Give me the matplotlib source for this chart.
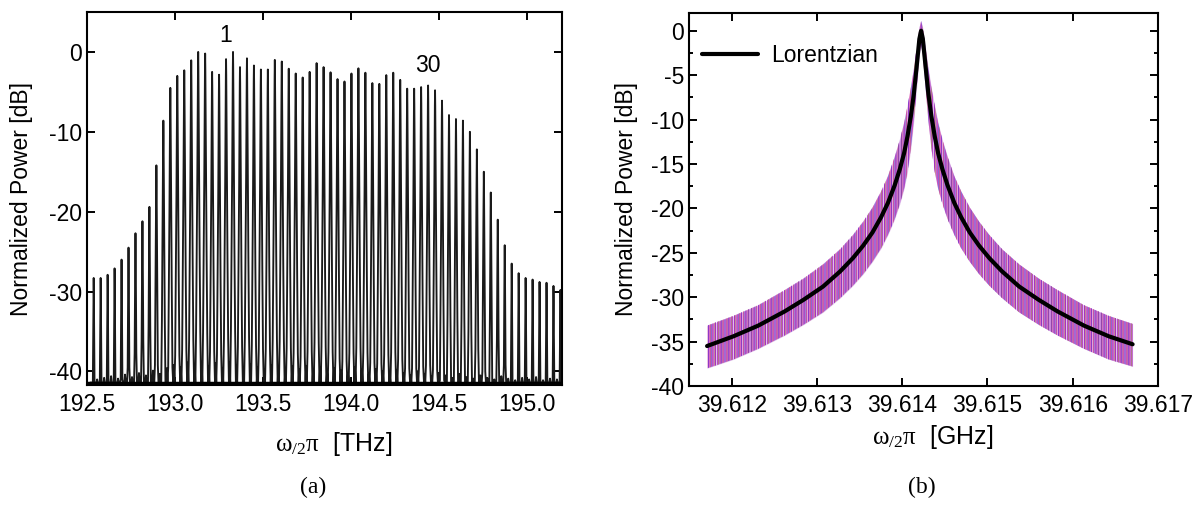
import numpy as np
import matplotlib.pyplot as plt

plt.rcParams['font.family'] = ['Liberation Sans', 'DejaVu Sans']
plt.rcParams['mathtext.fontset'] = 'custom'
plt.rcParams['mathtext.rm'] = 'Liberation Serif'
plt.rcParams['mathtext.it'] = 'Liberation Serif'
plt.rcParams['axes.unicode_minus'] = False
plt.rcParams['hatch.linewidth'] = 0.45

# ---- (a) comb spectrum: peak heights [dB], one per comb line ----
comb_start = 192.538   # THz, first line
comb_fsr = 0.0396      # THz, line spacing
peak_db = [-28.3, -28.3, -27.9, -27.1, -26.0, -24.5, -22.7, -21.2, -19.4, -14.2,
           -8.6, -4.5, -3.0, -2.3, -1.05, 0.0, -0.2, -2.5, -2.85, -0.9,
           0.0, -1.9, -0.8, -1.7, -2.2, -2.2, -1.0, -1.2, -2.1, -2.7,
           -3.2, -2.5, -1.4, -1.9, -2.55, -3.4, -3.7, -2.7, -2.05, -2.6,
           -3.9, -4.0, -2.9, -2.6, -3.5, -4.6, -4.6, -4.4, -4.2, -4.8,
           -6.1, -7.9, -8.4, -8.6, -10.0, -12.2, -15.0, -17.6, -21.0, -24.2,
           -26.5, -27.7, -28.3, -28.5, -28.8, -28.9, -29.3, -29.8]
# small spurs between the lines, near the noise floor
spur_db = [-41.0, -40.8, -40.6, -40.9, -40.4, -40.7, -40.2, -40.5, -39.9, -40.3,
           -39.6, -39.2, -39.5, -38.9, -39.3, -38.8, -39.4, -39.0, -39.6, -38.9,
           -39.3, -39.7, -39.1, -39.5, -39.8, -39.2, -39.6, -40.0, -39.4, -39.7,
           -39.3, -39.8, -39.5, -40.1, -39.6, -39.9, -40.2, -39.5, -39.8, -40.3,
           -39.7, -40.0, -40.4, -39.8, -40.2, -40.5, -40.0, -40.3, -40.6, -40.2,
           -40.5, -40.8, -40.3, -40.7, -40.9, -40.5, -40.8, -41.0, -40.6, -40.9,
           -41.1, -40.8, -41.0, -40.7, -41.1, -40.9, -41.0]
label_lines = {"1": (19, 1.5), "30": (48, 1.1)}

# ---- (b) beat note: Lorentzian fit ----
beat_center = 39.614222  # GHz
lor_df_mhz = [-2.51, -2.2, -1.91, -1.6, -1.38, -1.15, -0.95, -0.8, -0.68, -0.57,
              -0.47, -0.39, -0.31, -0.25, -0.20, -0.16, -0.12, -0.085, -0.05, -0.02,
              0.0, 0.02, 0.05, 0.085, 0.12, 0.16, 0.20, 0.25, 0.31, 0.39,
              0.47, 0.57, 0.68, 0.8, 0.95, 1.15, 1.38, 1.6, 1.91, 2.2, 2.48]
lor_db = [-35.5, -34.4, -33.2, -31.6, -30.3, -28.8, -27.1, -25.6, -24.2, -22.7,
          -21.0, -19.4, -17.4, -15.6, -13.8, -11.9, -9.6, -7.1, -3.8, -0.9,
          0.0, -0.9, -3.8, -7.1, -9.6, -11.9, -13.8, -15.6, -17.4, -19.4,
          -21.0, -22.7, -24.2, -25.6, -27.1, -28.8, -30.3, -31.6, -33.2, -34.4, -35.3]
# spread of the measured traces above / below the fit [dB]
noise_up = [2.3, 2.3, 2.3, 2.4, 2.4, 2.5, 2.5, 2.6, 2.7, 2.8,
            2.9, 3.0, 3.2, 3.3, 3.4, 3.4, 3.2, 2.8, 2.0, 1.2,
            1.1, 1.2, 2.0, 2.8, 3.2, 3.4, 3.4, 3.3, 3.2, 3.0,
            2.9, 2.8, 2.7, 2.6, 2.5, 2.5, 2.4, 2.4, 2.3, 2.3, 2.3]
noise_dn = [-2.5, -2.6, -2.6, -2.7, -2.8, -2.9, -3.0, -3.1, -3.2, -3.3,
            -3.5, -3.6, -3.8, -3.9, -4.0, -4.0, -3.6, -3.0, -2.4, -1.8,
            -1.6, -1.8, -2.4, -3.0, -3.6, -4.0, -4.0, -3.9, -3.8, -3.6,
            -3.5, -3.3, -3.2, -3.1, -3.0, -2.9, -2.8, -2.7, -2.6, -2.6, -2.5]
trace_colors = ['#7a1fc0', '#d8208f', '#2838c0', '#ee9040', '#b020c8']

fig = plt.figure(figsize=(12.03, 5.07), dpi=100)

# ------------------------------------------------------------ (a)
ax1 = fig.add_axes([87/1203, 1-385/507, 475/1203, 373/507])
floor = -41.4
# outline of one comb line: drop below its top [dB] and offset [THz]
drop = [45, 35, 25, 15, 6, 2, 0, 2, 6, 15, 25, 35, 45]
half = [-0.016, -0.012, -0.0082, -0.0048, -0.0023, -0.0011, 0,
        0.0011, 0.0023, 0.0048, 0.0082, 0.012, 0.016]
xs, ys = [], []
for k, p in enumerate(peak_db):
    f = comb_start + k*comb_fsr
    for d, h in zip(drop, half):
        xs.append(f + h)
        ys.append(max(p - d, floor))
    if k < len(spur_db):
        fm = f + comb_fsr/2
        xs += [fm - 0.0035, fm, fm + 0.0035]
        ys += [floor, spur_db[k], floor]
ax1.plot(xs, ys, color='#1a1a1a', lw=1.35)
ax1.plot([192.5, 195.2], [floor, floor], color='black', lw=2.5)
for txt, (k, off) in label_lines.items():
    ax1.text(comb_start + k*comb_fsr, peak_db[k] + off, txt, ha='center', va='bottom', fontsize=16.5)

ax1.set_xlim(192.5, 195.2)
ax1.set_ylim(-41.7, 5)
ax1.set_xticks([192.5, 193.0, 193.5, 194.0, 194.5, 195.0])
ax1.set_xticklabels(['192.5', '193.0', '193.5', '194.0', '194.5', '195.0'])
ax1.set_yticks([0, -10, -20, -30, -40])
ax1.set_ylabel('Normalized Power [dB]', fontsize=16.5)
ax1.yaxis.set_label_coords(-0.114, 0.5)
ax1.set_xlabel(r'$\mathrm{\omega_{/2}\pi}$  [THz]', fontsize=18)
ax1.xaxis.set_label_coords(0.52, -0.121)

# ------------------------------------------------------------ (b)
ax2 = fig.add_axes([689/1203, 1-386/507, 469/1203, 373/507])
fx = beat_center + np.array(lor_df_mhz)*1e-3
fy = np.array(lor_db)
up = fy + np.array(noise_up)
dn = fy + np.array(noise_dn)
ax2.fill_between(fx, dn, up, color='#a048c0', alpha=0.30, lw=0)
hatches = ['|||||||', '||||||', '|||||', '||||', '|||||||||']
for c, h in zip(trace_colors, hatches):
    ax2.fill_between(fx, dn, up, facecolor='none', edgecolor=c, hatch=h, lw=0, alpha=0.8)
ax2.plot(fx, fy, color='black', lw=3.0, label='Lorentzian', solid_capstyle='round',
         solid_joinstyle='round')
ax2.legend(loc='center left', frameon=False, fontsize=16.5, handlelength=2.45,
           handletextpad=0.55, borderpad=0, borderaxespad=0,
           bbox_to_anchor=(0.028, 0.887))

ax2.set_xlim(39.6115, 39.617)
ax2.set_ylim(-40, 2)
ax2.set_xticks([39.612, 39.613, 39.614, 39.615, 39.616, 39.617])
ax2.set_xticklabels(['39.612', '39.613', '39.614', '39.615', '39.616', '39.617'])
ax2.set_yticks(np.arange(0, -41, -5))
ax2.set_yticks(np.arange(-2.5, -40, -5), minor=True)
ax2.set_ylabel('Normalized Power [dB]', fontsize=16.5)
ax2.yaxis.set_label_coords(-0.109, 0.5)
ax2.set_xlabel(r'$\mathrm{\omega_{/2}\pi}$  [GHz]', fontsize=18)
ax2.xaxis.set_label_coords(0.52, -0.099)

for ax in (ax1, ax2):
    for s in ax.spines.values():
        s.set_linewidth(1.5)
    ax.tick_params(which='both', direction='in', top=True, right=True, width=1.4, labelsize=16.5)
    ax.tick_params(which='major', length=5.5)
    ax.tick_params(which='minor', length=3)
    ax.tick_params(axis='x', pad=6)

fig.text(313/1203, 1-487/507, '(a)', family='Liberation Serif', fontsize=17, ha='center', va='center')
fig.text(922/1203, 1-487/507, '(b)', family='Liberation Serif', fontsize=17, ha='center', va='center')

fig.savefig('out.png', dpi=100)
